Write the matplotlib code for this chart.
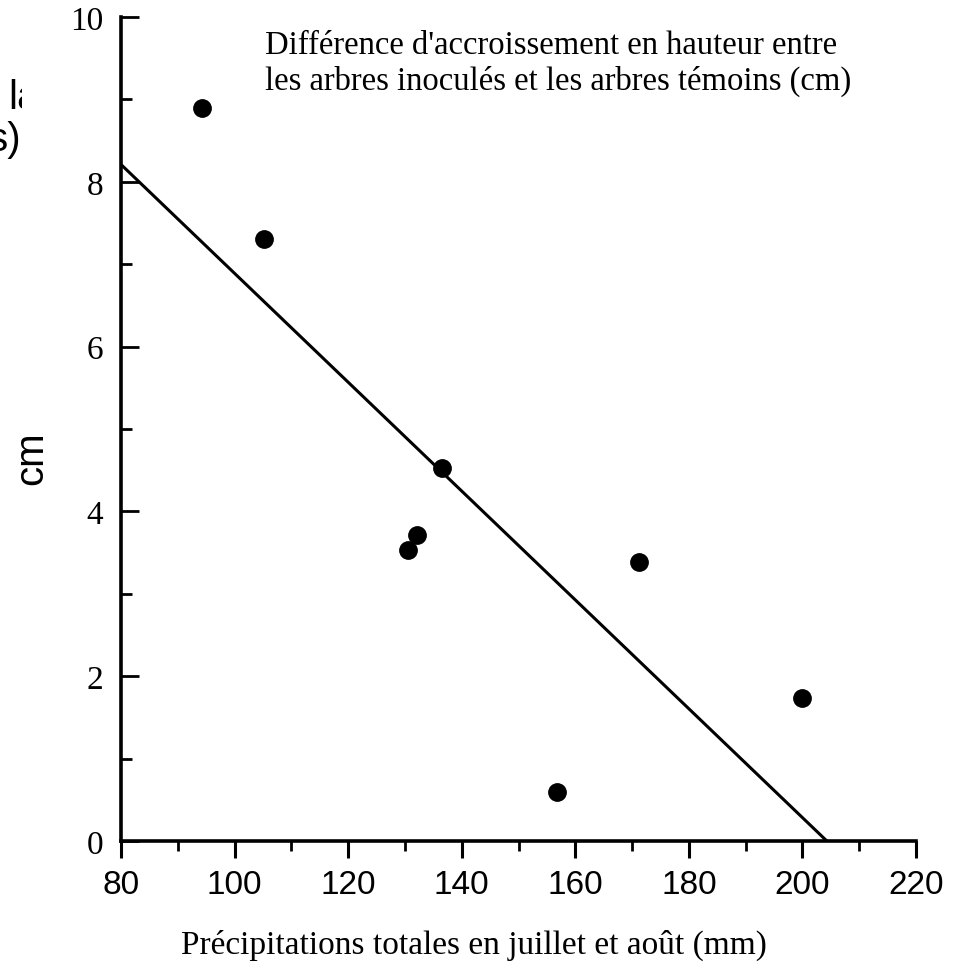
import matplotlib
matplotlib.use('Agg')
import matplotlib.pyplot as plt
from matplotlib.patches import Rectangle

# data
precip = [94.2, 105.1, 130.5, 132.1, 136.5, 156.7, 171.2, 199.9]
diff_cm = [8.90, 7.31, 3.53, 3.71, 4.53, 0.60, 3.39, 1.74]
fit_x = [80, 204.3]
fit_y = [8.21, 0.0]
xticks = [80, 100, 120, 140, 160, 180, 200, 220]
yticks = [0, 2, 4, 6, 8, 10]

serif = 'Liberation Serif'
sans = 'Liberation Sans'

fig = plt.figure(figsize=(9.6, 9.7), dpi=100)
ax = fig.add_axes([121/960, 1-842/970, (916-121)/960, (842-18)/970])

ax.plot(fit_x, fit_y, color='black', lw=2.2, solid_capstyle='butt')
ax.plot(precip, diff_cm, 'o', color='black', ms=12.5)

ax.set_xlim(80, 220)
ax.set_ylim(0, 10)
for s in ['top', 'right']:
    ax.spines[s].set_visible(False)
for s in ['left', 'bottom']:
    ax.spines[s].set_linewidth(2.6)

ax.set_xticks(xticks)
ax.set_xticks([90, 110, 130, 150, 170, 190, 210], minor=True)
ax.set_yticks(yticks)
ax.set_yticks([1, 3, 5, 7, 9], minor=True)

ax.tick_params(axis='x', which='major', direction='out', length=12, width=2.2, pad=8)
ax.tick_params(axis='x', which='minor', direction='out', length=7, width=2.0)
ax.tick_params(axis='y', which='major', direction='in', length=13, width=2.0, pad=13)
ax.tick_params(axis='y', which='minor', direction='in', length=8, width=2.0)

ax.set_xticklabels([str(v) for v in xticks], fontfamily=sans, fontsize=24)
ax.set_yticklabels([str(v) for v in yticks], fontfamily=serif, fontsize=24)

fig.text(265/960, 1-30/970,
         "Différence d'accroissement en hauteur entre\nles arbres inoculés et les arbres témoins (cm)",
         ha='left', va='top', fontfamily=serif, fontsize=23.5, linespacing=1.2)

fig.text(474/960, 1-945/970, "Précipitations totales en juillet et août (mm)",
         ha='center', va='center', fontfamily=serif, fontsize=24)

fig.text(31/960, 1-458/970, "cm", rotation=90, ha='center', va='center',
         fontfamily=sans, fontsize=29)

# clipped remnants of a neighbouring label on the far left
fig.text(8/960, 1-98/970, "la", ha='left', va='center', fontfamily=sans, fontsize=29)
fig.text(21/960, 1-140/970, "s)", ha='right', va='center', fontfamily=sans, fontsize=29)
fig.patches.append(Rectangle((22/960, 1-125/970), 40/960, 50/970, transform=fig.transFigure,
                             facecolor='white', edgecolor='none', zorder=5))

fig.savefig('out.png', dpi=100)
